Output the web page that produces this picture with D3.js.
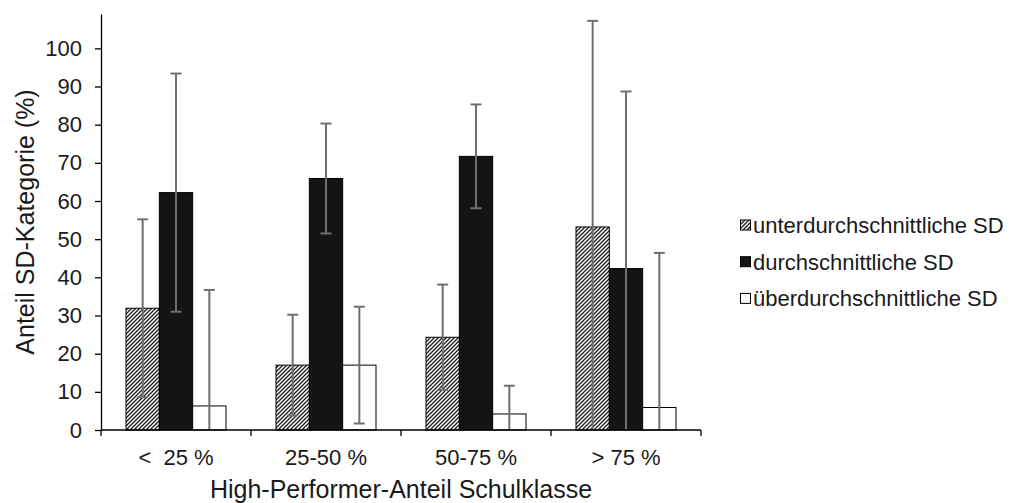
<!DOCTYPE html>
<html>
<head>
<meta charset="utf-8">
<script src="https://cdn.jsdelivr.net/npm/d3@7"></script>
<style>
  body { margin: 0; background: #fff; }
  svg { display: block; font-family: "Liberation Sans", Arial, sans-serif; }
</style>
</head>
<body>
<div id="chart-container"></div>
<script>
// Chart data
var categories = ["<  25 %", "25-50 %", "50-75 %", "> 75 %"];
var seriesNames = ["unterdurchschnittliche SD", "durchschnittliche SD", "überdurchschnittliche SD"];
var unterMean = [31.9, 17.0, 24.3, 53.2];
var unterSD = [23.3, 13.2, 13.8, 54.0];
var durchMean = [62.2, 65.9, 71.7, 42.3];
var durchSD = [31.2, 14.4, 13.6, 46.4];
var ueberMean = [6.3, 17.0, 4.2, 5.9];
var ueberSD = [30.4, 15.3, 7.4, 40.5];
var yTicks = [0, 10, 20, 30, 40, 50, 60, 70, 80, 90, 100];

// Global settings
var width = 1010, height = 503;
var plot = { left: 101, right: 701, top: 14, bottom: 430 };
var errColor = "#6f6f6f";

// Build rows for the bars
var means = [unterMean, durchMean, ueberMean];
var sds = [unterSD, durchSD, ueberSD];
var rows = [];
categories.forEach((cat, i) => {
  seriesNames.forEach((s, j) => {
    rows.push({ cat: cat, series: s, idx: j, value: means[j][i], sd: sds[j][i] });
  });
});

var svg = d3.select("#chart-container").append("svg")
  .attr("width", width)
  .attr("height", height);

// Hatch pattern (wide upward diagonal)
var defs = svg.append("defs");
defs.append("pattern")
  .attr("id", "hatch")
  .attr("patternUnits", "userSpaceOnUse")
  .attr("width", 4)
  .attr("height", 4)
  .call(p => p.append("rect").attr("width", 4).attr("height", 4).attr("fill", "#fff"))
  .append("path")
  .attr("d", "M-1,1 l2,-2 M0,4 l4,-4 M3,5 l2,-2")
  .attr("stroke", "#1a1a1a")
  .attr("stroke-width", 1.25);

var fills = ["url(#hatch)", "#141414", "#ffffff"];

// Scales
var x0 = d3.scaleBand()
  .domain(categories)
  .range([plot.left, plot.right])
  .paddingInner(1 / 3)
  .paddingOuter(1 / 6);

var x1 = d3.scaleBand()
  .domain(seriesNames)
  .range([0, x0.bandwidth()]);

var y = d3.scaleLinear()
  .domain([0, 109])
  .range([plot.bottom, plot.top]);

// Bars
svg.append("g")
  .selectAll("rect")
  .data(rows)
  .join("rect")
  .attr("x", d => x0(d.cat) + x1(d.series))
  .attr("y", d => y(d.value))
  .attr("width", x1.bandwidth())
  .attr("height", d => y(0) - y(d.value))
  .attr("fill", d => fills[d.idx])
  .attr("stroke", "#000")
  .attr("stroke-width", 1);

// Error bars
var capW = 5.5;
var err = svg.append("g")
  .attr("stroke", errColor)
  .attr("stroke-width", 2)
  .selectAll("g")
  .data(rows)
  .join("g")
  .attr("transform", d => `translate(${x0(d.cat) + x1(d.series) + x1.bandwidth() / 2},0)`);

err.append("line")
  .attr("y1", d => y(Math.max(0, d.value - d.sd)))
  .attr("y2", d => y(d.value + d.sd));

err.append("line")
  .attr("x1", -capW).attr("x2", capW)
  .attr("y1", d => y(d.value + d.sd))
  .attr("y2", d => y(d.value + d.sd));

err.filter(d => d.value - d.sd > 0)
  .append("line")
  .attr("x1", -capW).attr("x2", capW)
  .attr("y1", d => y(d.value - d.sd))
  .attr("y2", d => y(d.value - d.sd));

// Y axis
var yAxis = svg.append("g")
  .attr("transform", `translate(${plot.left},0)`)
  .call(d3.axisLeft(y).tickValues(yTicks).tickSize(6).tickSizeOuter(0).tickPadding(13));
yAxis.select(".domain").attr("stroke", "#000").attr("stroke-width", 1.3);
yAxis.selectAll(".tick line").attr("stroke", "#000").attr("stroke-width", 1.3);
yAxis.selectAll(".tick text")
  .attr("font-family", "Liberation Sans, Arial, sans-serif")
  .attr("font-size", 22)
  .attr("fill", "#1a1a1a");

// X axis
svg.append("line")
  .attr("x1", plot.left).attr("x2", plot.right)
  .attr("y1", y(0)).attr("y2", y(0))
  .attr("stroke", "#000").attr("stroke-width", 1.3);

var bounds = categories.map(c => x0(c) - x0.step() * x0.paddingInner() / 2);
bounds.push(plot.right);
svg.append("g")
  .selectAll("line")
  .data(bounds)
  .join("line")
  .attr("x1", d => d).attr("x2", d => d)
  .attr("y1", y(0)).attr("y2", y(0) + 6)
  .attr("stroke", "#000").attr("stroke-width", 1.3);

svg.append("g")
  .selectAll("text")
  .data(categories)
  .join("text")
  .attr("x", d => x0(d) + x0.bandwidth() / 2)
  .attr("y", 465)
  .attr("text-anchor", "middle")
  .attr("font-size", 22)
  .attr("fill", "#1a1a1a")
  .attr("xml:space", "preserve")
  .style("white-space", "pre")
  .text(d => d);

// Axis titles
svg.append("text")
  .attr("x", (plot.left + plot.right) / 2)
  .attr("y", 498)
  .attr("text-anchor", "middle")
  .attr("font-size", 25)
  .attr("fill", "#1a1a1a")
  .text("High-Performer-Anteil Schulklasse");

svg.append("text")
  .attr("transform", `translate(34,${(plot.top + plot.bottom) / 2}) rotate(-90)`)
  .attr("text-anchor", "middle")
  .attr("font-size", 25)
  .attr("fill", "#1a1a1a")
  .text("Anteil SD-Kategorie (%)");

// Legend
var legend = svg.append("g")
  .selectAll("g")
  .data(seriesNames)
  .join("g")
  .attr("transform", (d, i) => `translate(740,${225 + i * 36.7})`);

legend.append("rect")
  .attr("x", 0.5).attr("y", -5)
  .attr("width", 10).attr("height", 10)
  .attr("fill", (d, i) => fills[i])
  .attr("stroke", "#000")
  .attr("stroke-width", 1);

legend.append("text")
  .attr("x", 13)
  .attr("y", 8)
  .attr("font-size", 22)
  .attr("fill", "#1a1a1a")
  .text(d => d);
</script>
</body>
</html>
